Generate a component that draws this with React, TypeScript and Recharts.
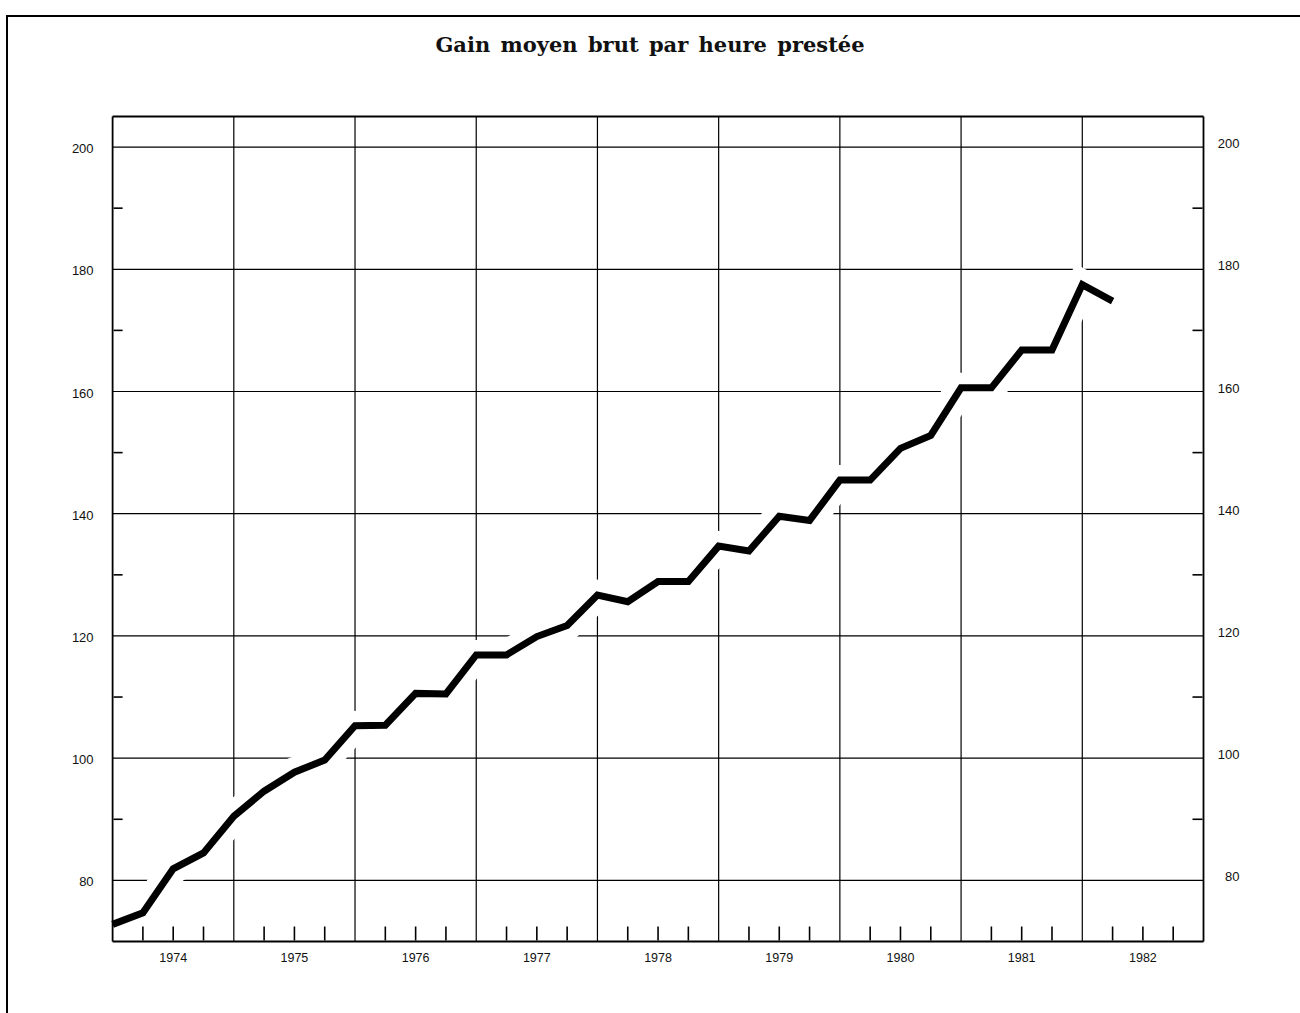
import React from 'react';
import { LineChart, Line, XAxis, YAxis, CartesianGrid } from 'recharts';

// trimestres (début de trimestre) et gain moyen brut par heure prestée
const quarters = [
  1974, 1974.25, 1974.5, 1974.75,
  1975, 1975.25, 1975.5, 1975.75,
  1976, 1976.25, 1976.5, 1976.75,
  1977, 1977.25, 1977.5, 1977.75,
  1978, 1978.25, 1978.5, 1978.75,
  1979, 1979.25, 1979.5, 1979.75,
  1980, 1980.25, 1980.5, 1980.75,
  1981, 1981.25, 1981.5, 1981.75,
  1982, 1982.25,
];
const gain = [
  72.8, 74.7, 81.9, 84.5,
  90.5, 94.6, 97.7, 99.7,
  105.3, 105.4, 110.6, 110.5,
  116.9, 116.9, 119.9, 121.7,
  126.7, 125.6, 128.9, 128.9,
  134.7, 133.9, 139.6, 138.9,
  145.5, 145.5, 150.7, 152.8,
  160.6, 160.6, 166.8, 166.8,
  177.5, 174.8,
];
const yearLabels = ['1974', '1975', '1976', '1977', '1978', '1979', '1980', '1981', '1982'];
const yearLines = [1975, 1976, 1977, 1978, 1979, 1980, 1981, 1982];
const yTicks = [80, 90, 100, 110, 120, 130, 140, 150, 160, 170, 180, 190, 200];
const yGrid = [80, 100, 120, 140, 160, 180, 200];

const data = quarters.map((q, i) => ({ q, v: gain[i] }));
const firstYear = Number(yearLabels[0]);
const xTicks = yearLabels
  .flatMap((y) => [0, 0.25, 0.5, 0.75].map((f) => Number(y) + f))
  .concat([firstYear + yearLabels.length]);

const sans = '"Liberation Sans", Arial, Helvetica, sans-serif';

// the axes are 1px wide/high, tick x/y sit on the outer side of that pixel
const BottomTick = (props: any) => {
  const { x, y, payload } = props;
  const v = payload.value;
  const frac = Math.round((v - Math.floor(v)) * 4);
  if (frac === 0) return <g />;
  const y0 = y - 1;
  return (
    <g>
      <line x1={x} x2={x} y1={y0} y2={y0 - 14} stroke="#000" strokeWidth={1.6} />
      {frac === 2 && (
        <text x={x} y={y0 + 21} textAnchor="middle" fontSize={12.5} fontFamily={sans} fill="#111">
          {yearLabels[Math.floor(v) - firstYear]}
        </text>
      )}
    </g>
  );
};

const LeftTick = (props: any) => {
  const { x, y, payload } = props;
  const v = payload.value;
  const x0 = x + 1;
  if (v % 20 === 0) {
    return (
      <text x={x0 - 20} y={y + 6} textAnchor="end" fontSize={13} fontFamily={sans} fill="#111">
        {v}
      </text>
    );
  }
  return <line x1={x0} x2={x0 + 9} y1={y} y2={y} stroke="#000" strokeWidth={1.6} />;
};

const RightTick = (props: any) => {
  const { x, y, payload } = props;
  const v = payload.value;
  const x0 = x - 1;
  if (v % 20 === 0) {
    return (
      <text x={x0 + 37} y={y + 1} textAnchor="end" fontSize={13} fontFamily={sans} fill="#111">
        {v}
      </text>
    );
  }
  return <line x1={x0} x2={x0 - 10} y1={y} y2={y} stroke="#000" strokeWidth={1.6} />;
};

const App: React.FC = () => {
  const frame = { stroke: '#000', strokeWidth: 1.8 };
  return (
    <div
      style={{
        position: 'fixed',
        left: 0,
        top: 0,
        width: 1300,
        height: 1013,
        overflow: 'hidden',
        background: '#fff',
      }}
    >
      <div
        style={{
          position: 'absolute',
          left: 6,
          top: 15,
          width: 1310,
          height: 1010,
          borderLeft: '2px solid #000',
          borderTop: '2.5px solid #000',
        }}
      />
      <div
        style={{
          position: 'absolute',
          top: 32,
          left: 0,
          width: 1300,
          textAlign: 'center',
          fontFamily: '"DejaVu Serif", "Liberation Serif", serif',
          fontWeight: 'bold',
          fontSize: 21,
          wordSpacing: 3,
          color: '#111',
        }}
      >
        Gain moyen brut par heure prestée
      </div>
      <div style={{ position: 'absolute', left: 0, top: 0 }}>
        <LineChart
          width={1300}
          height={1013}
          data={data}
          margin={{ top: 115.5, right: 95.5, bottom: 70.5, left: 111.6 }}
        >
          <CartesianGrid
            stroke="#000"
            strokeWidth={1.2}
            horizontalValues={yGrid}
            verticalValues={yearLines}
          />
          <Line
            xAxisId="top"
            yAxisId="right"
            type="linear"
            dataKey="v"
            stroke="#fff"
            strokeWidth={30}
            dot={false}
            activeDot={false}
            isAnimationActive={false}
          />
          <Line
            type="linear"
            dataKey="v"
            stroke="#000"
            strokeWidth={7}
            dot={false}
            activeDot={false}
            isAnimationActive={false}
          />
          <XAxis
            dataKey="q"
            type="number"
            domain={[1974, 1983]}
            ticks={xTicks}
            interval={0}
            height={1}
            tickSize={0}
            tickMargin={0}
            tickLine={false}
            axisLine={frame}
            tick={BottomTick}
          />
          <XAxis
            xAxisId="top"
            orientation="top"
            dataKey="q"
            type="number"
            domain={[1974, 1983]}
            height={1}
            tick={false}
            tickLine={false}
            axisLine={frame}
          />
          <YAxis
            type="number"
            domain={[70, 205]}
            ticks={yTicks}
            interval={0}
            width={1}
            tickSize={0}
            tickMargin={0}
            tickLine={false}
            axisLine={frame}
            tick={LeftTick}
          />
          <YAxis
            yAxisId="right"
            orientation="right"
            type="number"
            domain={[70, 205]}
            ticks={yTicks}
            interval={0}
            width={1}
            tickSize={0}
            tickMargin={0}
            tickLine={false}
            axisLine={frame}
            tick={RightTick}
          />
        </LineChart>
      </div>
    </div>
  );
};

export default App;
